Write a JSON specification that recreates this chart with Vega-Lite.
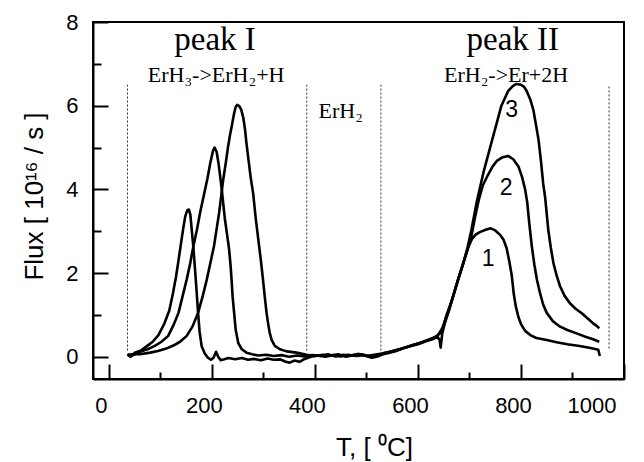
{
  "$schema": "https://vega.github.io/schema/vega-lite/v6.json",
  "width": 531,
  "height": 357,
  "autosize": {"type": "none"},
  "padding": {"left": 93, "top": 22, "right": 20, "bottom": 83},
  "background": "white",
  "config": {
    "view": {"stroke": "black", "strokeWidth": 2},
    "axis": {
      "grid": false,
      "domainColor": "black",
      "domainWidth": 2,
      "tickColor": "black",
      "tickWidth": 2,
      "labelColor": "black",
      "labelFont": "Liberation Sans",
      "labelFontSize": 22,
      "titleFont": "Liberation Sans",
      "titleFontSize": 26,
      "titleFontWeight": "normal",
      "titleColor": "black"
    }
  },
  "datasets": {
    "dividers": [
      {"x": 36, "y1": 0.15, "y2": 6.5},
      {"x": 384, "y1": 0.15, "y2": 6.5},
      {"x": 528, "y1": 0.15, "y2": 6.5},
      {"x": 971, "y1": 0.2, "y2": 6.5}
    ],
    "curves": [
      {"curve": "1", "x": 36, "y": 0.05}, {"curve": "1", "x": 42, "y": 0.0}, {"curve": "1", "x": 50, "y": 0.1}, {"curve": "1", "x": 62, "y": 0.15}, {"curve": "1", "x": 73, "y": 0.25}, {"curve": "1", "x": 85, "y": 0.36}, {"curve": "1", "x": 96, "y": 0.52}, {"curve": "1", "x": 107, "y": 0.78}, {"curve": "1", "x": 117, "y": 1.1}, {"curve": "1", "x": 124, "y": 1.5}, {"curve": "1", "x": 130, "y": 1.9}, {"curve": "1", "x": 135, "y": 2.3}, {"curve": "1", "x": 139, "y": 2.64}, {"curve": "1", "x": 144, "y": 3.05}, {"curve": "1", "x": 148, "y": 3.35}, {"curve": "1", "x": 152, "y": 3.5}, {"curve": "1", "x": 155, "y": 3.52}, {"curve": "1", "x": 158, "y": 3.4}, {"curve": "1", "x": 161, "y": 3.0}, {"curve": "1", "x": 164, "y": 2.6}, {"curve": "1", "x": 167, "y": 2.1}, {"curve": "1", "x": 170, "y": 1.6}, {"curve": "1", "x": 173, "y": 1.05}, {"curve": "1", "x": 176, "y": 0.6}, {"curve": "1", "x": 180, "y": 0.25}, {"curve": "1", "x": 186, "y": 0.08}, {"curve": "1", "x": 192, "y": -0.02}, {"curve": "1", "x": 198, "y": -0.07}, {"curve": "1", "x": 203, "y": -0.02}, {"curve": "1", "x": 208, "y": 0.12}, {"curve": "1", "x": 212, "y": 0.0}, {"curve": "1", "x": 217, "y": -0.08}, {"curve": "1", "x": 224, "y": -0.06}, {"curve": "1", "x": 232, "y": -0.03}, {"curve": "1", "x": 245, "y": -0.06}, {"curve": "1", "x": 258, "y": -0.03}, {"curve": "1", "x": 270, "y": -0.07}, {"curve": "1", "x": 282, "y": -0.05}, {"curve": "1", "x": 295, "y": -0.08}, {"curve": "1", "x": 308, "y": -0.04}, {"curve": "1", "x": 320, "y": -0.07}, {"curve": "1", "x": 332, "y": -0.06}, {"curve": "1", "x": 342, "y": -0.11}, {"curve": "1", "x": 351, "y": -0.14}, {"curve": "1", "x": 360, "y": -0.09}, {"curve": "1", "x": 370, "y": -0.12}, {"curve": "1", "x": 380, "y": -0.05}, {"curve": "1", "x": 392, "y": 0.0}, {"curve": "1", "x": 405, "y": 0.03}, {"curve": "1", "x": 420, "y": 0.0}, {"curve": "1", "x": 435, "y": 0.04}, {"curve": "1", "x": 450, "y": 0.01}, {"curve": "1", "x": 465, "y": 0.05}, {"curve": "1", "x": 480, "y": 0.02}, {"curve": "1", "x": 495, "y": 0.04}, {"curve": "1", "x": 510, "y": -0.02}, {"curve": "1", "x": 520, "y": 0.0}, {"curve": "1", "x": 532, "y": 0.06}, {"curve": "1", "x": 545, "y": 0.1}, {"curve": "1", "x": 558, "y": 0.14}, {"curve": "1", "x": 570, "y": 0.2}, {"curve": "1", "x": 585, "y": 0.25}, {"curve": "1", "x": 600, "y": 0.3}, {"curve": "1", "x": 615, "y": 0.37}, {"curve": "1", "x": 628, "y": 0.42}, {"curve": "1", "x": 638, "y": 0.48}, {"curve": "1", "x": 642, "y": 0.4}, {"curve": "1", "x": 644, "y": 0.22}, {"curve": "1", "x": 647, "y": 0.55}, {"curve": "1", "x": 652, "y": 0.8}, {"curve": "1", "x": 660, "y": 1.1}, {"curve": "1", "x": 668, "y": 1.44}, {"curve": "1", "x": 678, "y": 1.85}, {"curve": "1", "x": 688, "y": 2.24}, {"curve": "1", "x": 697, "y": 2.6}, {"curve": "1", "x": 705, "y": 2.82}, {"curve": "1", "x": 712, "y": 2.92}, {"curve": "1", "x": 720, "y": 2.98}, {"curve": "1", "x": 730, "y": 3.03}, {"curve": "1", "x": 741, "y": 3.07}, {"curve": "1", "x": 750, "y": 3.02}, {"curve": "1", "x": 759, "y": 2.92}, {"curve": "1", "x": 766, "y": 2.8}, {"curve": "1", "x": 772, "y": 2.6}, {"curve": "1", "x": 777, "y": 2.3}, {"curve": "1", "x": 782, "y": 1.95}, {"curve": "1", "x": 786, "y": 1.5}, {"curve": "1", "x": 790, "y": 1.2}, {"curve": "1", "x": 795, "y": 0.95}, {"curve": "1", "x": 800, "y": 0.78}, {"curve": "1", "x": 808, "y": 0.62}, {"curve": "1", "x": 818, "y": 0.52}, {"curve": "1", "x": 830, "y": 0.45}, {"curve": "1", "x": 850, "y": 0.4}, {"curve": "1", "x": 869, "y": 0.35}, {"curve": "1", "x": 890, "y": 0.3}, {"curve": "1", "x": 914, "y": 0.26}, {"curve": "1", "x": 935, "y": 0.21}, {"curve": "1", "x": 950, "y": 0.17}, {"curve": "1", "x": 953, "y": 0.02},
      {"curve": "2", "x": 36, "y": 0.05}, {"curve": "2", "x": 45, "y": 0.03}, {"curve": "2", "x": 60, "y": 0.12}, {"curve": "2", "x": 75, "y": 0.18}, {"curve": "2", "x": 89, "y": 0.26}, {"curve": "2", "x": 102, "y": 0.36}, {"curve": "2", "x": 115, "y": 0.5}, {"curve": "2", "x": 125, "y": 0.75}, {"curve": "2", "x": 135, "y": 1.05}, {"curve": "2", "x": 143, "y": 1.45}, {"curve": "2", "x": 151, "y": 1.85}, {"curve": "2", "x": 158, "y": 2.25}, {"curve": "2", "x": 164, "y": 2.65}, {"curve": "2", "x": 171, "y": 3.05}, {"curve": "2", "x": 177, "y": 3.45}, {"curve": "2", "x": 184, "y": 3.85}, {"curve": "2", "x": 191, "y": 4.25}, {"curve": "2", "x": 197, "y": 4.65}, {"curve": "2", "x": 202, "y": 4.92}, {"curve": "2", "x": 205, "y": 5.0}, {"curve": "2", "x": 209, "y": 4.9}, {"curve": "2", "x": 213, "y": 4.6}, {"curve": "2", "x": 216, "y": 4.3}, {"curve": "2", "x": 219, "y": 4.0}, {"curve": "2", "x": 222, "y": 3.65}, {"curve": "2", "x": 225, "y": 3.3}, {"curve": "2", "x": 229, "y": 2.95}, {"curve": "2", "x": 233, "y": 2.6}, {"curve": "2", "x": 236, "y": 2.2}, {"curve": "2", "x": 238, "y": 1.85}, {"curve": "2", "x": 240, "y": 1.45}, {"curve": "2", "x": 243, "y": 1.05}, {"curve": "2", "x": 246, "y": 0.65}, {"curve": "2", "x": 251, "y": 0.33}, {"curve": "2", "x": 258, "y": 0.18}, {"curve": "2", "x": 267, "y": 0.1}, {"curve": "2", "x": 278, "y": 0.06}, {"curve": "2", "x": 290, "y": 0.03}, {"curve": "2", "x": 305, "y": 0.05}, {"curve": "2", "x": 320, "y": 0.02}, {"curve": "2", "x": 335, "y": 0.04}, {"curve": "2", "x": 350, "y": 0.0}, {"curve": "2", "x": 365, "y": 0.03}, {"curve": "2", "x": 380, "y": 0.01}, {"curve": "2", "x": 395, "y": 0.04}, {"curve": "2", "x": 410, "y": 0.02}, {"curve": "2", "x": 425, "y": 0.06}, {"curve": "2", "x": 440, "y": 0.01}, {"curve": "2", "x": 455, "y": 0.05}, {"curve": "2", "x": 470, "y": 0.03}, {"curve": "2", "x": 485, "y": 0.07}, {"curve": "2", "x": 500, "y": 0.02}, {"curve": "2", "x": 515, "y": 0.05}, {"curve": "2", "x": 530, "y": 0.08}, {"curve": "2", "x": 545, "y": 0.12}, {"curve": "2", "x": 560, "y": 0.17}, {"curve": "2", "x": 575, "y": 0.22}, {"curve": "2", "x": 590, "y": 0.28}, {"curve": "2", "x": 605, "y": 0.33}, {"curve": "2", "x": 620, "y": 0.4}, {"curve": "2", "x": 632, "y": 0.46}, {"curve": "2", "x": 645, "y": 0.58}, {"curve": "2", "x": 655, "y": 0.95}, {"curve": "2", "x": 662, "y": 1.2}, {"curve": "2", "x": 668, "y": 1.44}, {"curve": "2", "x": 678, "y": 1.85}, {"curve": "2", "x": 688, "y": 2.24}, {"curve": "2", "x": 696, "y": 2.55}, {"curve": "2", "x": 704, "y": 2.9}, {"curve": "2", "x": 711, "y": 3.35}, {"curve": "2", "x": 718, "y": 3.75}, {"curve": "2", "x": 726, "y": 4.1}, {"curve": "2", "x": 736, "y": 4.35}, {"curve": "2", "x": 745, "y": 4.55}, {"curve": "2", "x": 753, "y": 4.68}, {"curve": "2", "x": 763, "y": 4.76}, {"curve": "2", "x": 775, "y": 4.8}, {"curve": "2", "x": 785, "y": 4.72}, {"curve": "2", "x": 795, "y": 4.55}, {"curve": "2", "x": 802, "y": 4.3}, {"curve": "2", "x": 808, "y": 4.0}, {"curve": "2", "x": 812, "y": 3.7}, {"curve": "2", "x": 816, "y": 3.2}, {"curve": "2", "x": 821, "y": 2.64}, {"curve": "2", "x": 826, "y": 2.2}, {"curve": "2", "x": 831, "y": 1.84}, {"curve": "2", "x": 837, "y": 1.52}, {"curve": "2", "x": 843, "y": 1.25}, {"curve": "2", "x": 850, "y": 1.05}, {"curve": "2", "x": 862, "y": 0.85}, {"curve": "2", "x": 876, "y": 0.72}, {"curve": "2", "x": 890, "y": 0.64}, {"curve": "2", "x": 908, "y": 0.56}, {"curve": "2", "x": 925, "y": 0.48}, {"curve": "2", "x": 940, "y": 0.42}, {"curve": "2", "x": 952, "y": 0.36},
      {"curve": "3", "x": 36, "y": 0.05}, {"curve": "3", "x": 46, "y": 0.06}, {"curve": "3", "x": 60, "y": 0.06}, {"curve": "3", "x": 80, "y": 0.1}, {"curve": "3", "x": 95, "y": 0.14}, {"curve": "3", "x": 110, "y": 0.19}, {"curve": "3", "x": 125, "y": 0.27}, {"curve": "3", "x": 138, "y": 0.36}, {"curve": "3", "x": 151, "y": 0.5}, {"curve": "3", "x": 162, "y": 0.72}, {"curve": "3", "x": 173, "y": 1.05}, {"curve": "3", "x": 182, "y": 1.45}, {"curve": "3", "x": 190, "y": 1.85}, {"curve": "3", "x": 197, "y": 2.25}, {"curve": "3", "x": 204, "y": 2.65}, {"curve": "3", "x": 209, "y": 3.05}, {"curve": "3", "x": 214, "y": 3.45}, {"curve": "3", "x": 218, "y": 3.85}, {"curve": "3", "x": 222, "y": 4.25}, {"curve": "3", "x": 227, "y": 4.65}, {"curve": "3", "x": 231, "y": 5.0}, {"curve": "3", "x": 235, "y": 5.3}, {"curve": "3", "x": 239, "y": 5.55}, {"curve": "3", "x": 243, "y": 5.82}, {"curve": "3", "x": 246, "y": 5.97}, {"curve": "3", "x": 249, "y": 6.02}, {"curve": "3", "x": 253, "y": 5.99}, {"curve": "3", "x": 257, "y": 5.9}, {"curve": "3", "x": 261, "y": 5.7}, {"curve": "3", "x": 264, "y": 5.45}, {"curve": "3", "x": 267, "y": 5.1}, {"curve": "3", "x": 271, "y": 4.7}, {"curve": "3", "x": 275, "y": 4.3}, {"curve": "3", "x": 280, "y": 3.9}, {"curve": "3", "x": 285, "y": 3.3}, {"curve": "3", "x": 290, "y": 2.8}, {"curve": "3", "x": 295, "y": 2.3}, {"curve": "3", "x": 299, "y": 1.85}, {"curve": "3", "x": 303, "y": 1.38}, {"curve": "3", "x": 306, "y": 1.05}, {"curve": "3", "x": 309, "y": 0.8}, {"curve": "3", "x": 312, "y": 0.58}, {"curve": "3", "x": 316, "y": 0.4}, {"curve": "3", "x": 322, "y": 0.26}, {"curve": "3", "x": 332, "y": 0.18}, {"curve": "3", "x": 345, "y": 0.13}, {"curve": "3", "x": 364, "y": 0.1}, {"curve": "3", "x": 384, "y": 0.05}, {"curve": "3", "x": 400, "y": 0.02}, {"curve": "3", "x": 415, "y": 0.05}, {"curve": "3", "x": 430, "y": 0.03}, {"curve": "3", "x": 445, "y": 0.06}, {"curve": "3", "x": 460, "y": 0.0}, {"curve": "3", "x": 475, "y": 0.04}, {"curve": "3", "x": 490, "y": 0.06}, {"curve": "3", "x": 505, "y": 0.02}, {"curve": "3", "x": 520, "y": 0.04}, {"curve": "3", "x": 535, "y": 0.09}, {"curve": "3", "x": 550, "y": 0.13}, {"curve": "3", "x": 565, "y": 0.18}, {"curve": "3", "x": 580, "y": 0.24}, {"curve": "3", "x": 595, "y": 0.3}, {"curve": "3", "x": 610, "y": 0.36}, {"curve": "3", "x": 625, "y": 0.43}, {"curve": "3", "x": 638, "y": 0.5}, {"curve": "3", "x": 648, "y": 0.7}, {"curve": "3", "x": 655, "y": 0.98}, {"curve": "3", "x": 662, "y": 1.22}, {"curve": "3", "x": 668, "y": 1.44}, {"curve": "3", "x": 678, "y": 1.85}, {"curve": "3", "x": 688, "y": 2.24}, {"curve": "3", "x": 696, "y": 2.6}, {"curve": "3", "x": 704, "y": 3.05}, {"curve": "3", "x": 714, "y": 3.7}, {"curve": "3", "x": 727, "y": 4.4}, {"curve": "3", "x": 740, "y": 5.0}, {"curve": "3", "x": 751, "y": 5.5}, {"curve": "3", "x": 762, "y": 6.0}, {"curve": "3", "x": 775, "y": 6.35}, {"curve": "3", "x": 784, "y": 6.47}, {"curve": "3", "x": 791, "y": 6.52}, {"curve": "3", "x": 800, "y": 6.5}, {"curve": "3", "x": 806, "y": 6.45}, {"curve": "3", "x": 811, "y": 6.35}, {"curve": "3", "x": 818, "y": 6.15}, {"curve": "3", "x": 824, "y": 5.9}, {"curve": "3", "x": 829, "y": 5.55}, {"curve": "3", "x": 834, "y": 5.19}, {"curve": "3", "x": 839, "y": 4.65}, {"curve": "3", "x": 843, "y": 4.15}, {"curve": "3", "x": 847, "y": 3.8}, {"curve": "3", "x": 853, "y": 3.03}, {"curve": "3", "x": 858, "y": 2.6}, {"curve": "3", "x": 863, "y": 2.24}, {"curve": "3", "x": 869, "y": 1.95}, {"curve": "3", "x": 876, "y": 1.68}, {"curve": "3", "x": 885, "y": 1.45}, {"curve": "3", "x": 895, "y": 1.28}, {"curve": "3", "x": 906, "y": 1.15}, {"curve": "3", "x": 918, "y": 1.04}, {"curve": "3", "x": 929, "y": 0.92}, {"curve": "3", "x": 940, "y": 0.8}, {"curve": "3", "x": 947, "y": 0.74}, {"curve": "3", "x": 952, "y": 0.68}
    ],
    "peaks": [
      {"x": 206, "y": 7.34, "text": "peak I"},
      {"x": 784, "y": 7.34, "text": "peak II"}
    ],
    "reactions": [
      {"x": 208, "y": 6.57, "text": "ErH₃->ErH₂+H"},
      {"x": 771, "y": 6.57, "text": "ErH₂->Er+2H"},
      {"x": 450, "y": 5.71, "text": "ErH₂"}
    ],
    "numbers": [
      {"x": 782, "y": 5.9, "text": "3"},
      {"x": 771, "y": 4.04, "text": "2"},
      {"x": 736, "y": 2.34, "text": "1"}
    ]
  },
  "layer": [
    {
      "data": {"name": "dividers"},
      "mark": {"type": "rule", "color": "#333333", "strokeWidth": 1, "strokeDash": [2, 2]},
      "encoding": {
        "x": {"field": "x", "type": "quantitative", "scale": {"domain": [-31, 1000], "nice": false, "zero": false},
              "axis": {"orient": "top", "offset": -357, "values": [0, 200, 400, 600, 800, 1000], "labels": false, "domain": false, "tickSize": 15, "title": null}},
        "y": {"field": "y1", "type": "quantitative", "scale": {"domain": [-0.53, 8], "nice": false, "zero": false},
              "axis": {"orient": "right", "offset": -531, "values": [0, 2, 4, 6, 8], "labels": false, "domain": false, "tickSize": 15, "title": null}},
        "y2": {"field": "y2"}
      }
    },
    {
      "data": {"name": "curves"},
      "mark": {"type": "line", "color": "black", "strokeWidth": 2.6, "strokeJoin": "round"},
      "encoding": {
        "x": {"field": "x", "type": "quantitative", "scale": {"domain": [-31, 1000], "nice": false, "zero": false},
              "axis": {"orient": "bottom", "values": [0, 200, 400, 600, 800, 1000], "format": "d", "ticks": false, "tickSize": 0, "labelPadding": 16, "labelOffset": -8,
                       "title": "T, [ ⁰C]", "titleX": 281, "titleY": 76, "titleBaseline": "alphabetic"}},
        "y": {"field": "y", "type": "quantitative", "scale": {"domain": [-0.53, 8], "nice": false, "zero": false},
              "axis": {"orient": "left", "values": [0, 2, 4, 6, 8], "format": "d", "ticks": false, "tickSize": 0, "labelPadding": 15,
                       "title": "Flux [ 10¹⁶ / s ]", "titleX": -51, "titleY": 174, "titleBaseline": "alphabetic", "titleAngle": -90}},
        "detail": {"field": "curve", "type": "nominal"}
      }
    },
    {
      "data": {"name": "peaks"},
      "mark": {"type": "text", "font": "Liberation Serif", "fontSize": 33, "color": "black", "align": "center", "baseline": "alphabetic"},
      "encoding": {
        "x": {"field": "x", "type": "quantitative", "scale": {"domain": [-31, 1000], "nice": false, "zero": false},
              "axis": {"orient": "top", "offset": -357, "values": [100, 300, 500, 700, 900], "labels": false, "domain": false, "tickSize": 7, "title": null}},
        "y": {"field": "y", "type": "quantitative", "scale": {"domain": [-0.53, 8], "nice": false, "zero": false},
              "axis": {"orient": "right", "offset": -531, "values": [1, 3, 5, 7], "labels": false, "domain": false, "tickSize": 8, "title": null}},
        "text": {"field": "text"}
      }
    },
    {
      "data": {"name": "reactions"},
      "mark": {"type": "text", "font": "Liberation Serif", "fontSize": 22, "color": "black", "align": "center", "baseline": "alphabetic"},
      "encoding": {
        "x": {"field": "x", "type": "quantitative", "axis": null, "scale": {"domain": [-31, 1000], "nice": false, "zero": false}},
        "y": {"field": "y", "type": "quantitative", "axis": null, "scale": {"domain": [-0.53, 8], "nice": false, "zero": false}},
        "text": {"field": "text"}
      }
    },
    {
      "data": {"name": "numbers"},
      "mark": {"type": "text", "font": "Liberation Sans", "fontSize": 23, "color": "black", "align": "center", "baseline": "middle"},
      "encoding": {
        "x": {"field": "x", "type": "quantitative", "axis": null, "scale": {"domain": [-31, 1000], "nice": false, "zero": false}},
        "y": {"field": "y", "type": "quantitative", "axis": null, "scale": {"domain": [-0.53, 8], "nice": false, "zero": false}},
        "text": {"field": "text"}
      }
    }
  ],
  "resolve": {"axis": {"x": "independent", "y": "independent"}}
}
